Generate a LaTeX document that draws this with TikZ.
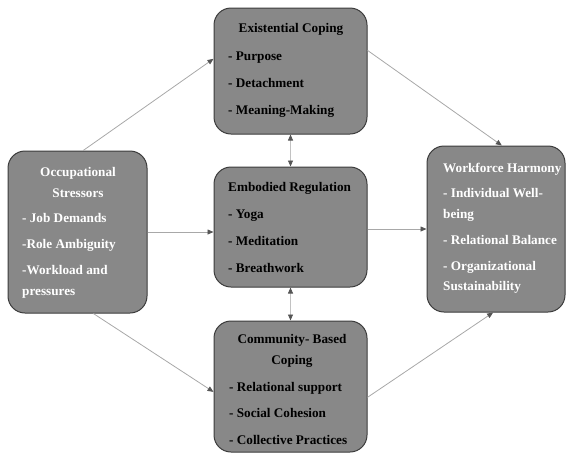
\documentclass[tikz,border=0pt]{standalone}
\usepackage{fontspec}
\setmainfont{Liberation Serif}
\usetikzlibrary{arrows.meta}
\definecolor{boxfill}{HTML}{888888}
\definecolor{boxline}{HTML}{3C3C3C}
\definecolor{conn}{HTML}{A8A8A8}
\definecolor{tipc}{HTML}{555555}
\tikzset{
  box/.style={draw=boxline, line width=1pt, fill=boxfill, rounded corners=17pt, inner sep=0pt},
  lbl/.style={inner sep=0pt, font=\fontsize{13.2}{15}\selectfont\bfseries},
  wlbl/.style={lbl, text=white},
  blbl/.style={lbl, text=black},
  conn/.style={draw=conn, line width=0.8pt, -{Triangle[length=6pt,width=5pt,color=tipc]}},
  dconn/.style={draw=conn!70, line width=0.8pt, {Triangle[length=6pt,width=5pt,color=tipc]}-{Triangle[length=6pt,width=5pt,color=tipc]}}
}
\begin{document}
\begin{tikzpicture}[x=1pt,y=-1pt]
\useasboundingbox (0,0) rectangle (572,459);
% boxes
\node[box, minimum width=153pt, minimum height=126pt] (ex) at (290.5,71) {};
\node[box, minimum width=139pt, minimum height=162pt] (occ) at (77.5,232) {};
\node[box, minimum width=153pt, minimum height=120pt] (emb) at (290.5,227) {};
\node[box, minimum width=138pt, minimum height=166pt] (wf) at (496,229) {};
\node[box, minimum width=153pt, minimum height=131pt] (com) at (290.5,386.5) {};
% Existential
\node[blbl, anchor=mid] (ex0) at (291,30) {Existential Coping};
\node[blbl, anchor=mid west] (ex1) at (228,58) {- Purpose};
\node[blbl, anchor=mid west] (ex2) at (228,85) {- Detachment};
\node[blbl, anchor=mid west] (ex3) at (228,112) {- Meaning-Making};
% Occupational
\node[wlbl, anchor=mid] (oc0) at (78,174) {Occupational};
\node[wlbl, anchor=mid] (oc1) at (78,195) {Stressors};
\node[wlbl, anchor=mid west] (oc2) at (22,220) {- Job Demands};
\node[wlbl, anchor=mid west] (oc3) at (22,246) {-Role Ambiguity};
\node[wlbl, anchor=mid west] (oc4) at (22,272) {-Workload and};
\node[wlbl, anchor=mid west] (oc5) at (22,293) {pressures};
% Embodied
\node[blbl, anchor=mid west] (em0) at (228,189) {Embodied Regulation};
\node[blbl, anchor=mid west] (em1) at (228,216) {- Yoga};
\node[blbl, anchor=mid west] (em2) at (228,243) {- Meditation};
\node[blbl, anchor=mid west] (em3) at (228,270) {- Breathwork};
% Workforce
\node[wlbl, anchor=mid west] (wf0) at (443,170) {Workforce Harmony};
\node[wlbl, anchor=mid west] (wf1) at (443,195) {- Individual Well-};
\node[wlbl, anchor=mid west] (wf2) at (443,216) {being};
\node[wlbl, anchor=mid west] (wf3) at (443,242) {- Relational Balance};
\node[wlbl, anchor=mid west] (wf4) at (443,268) {- Organizational};
\node[wlbl, anchor=mid west] (wf5) at (443,288) {Sustainability};
% Community
\node[blbl, anchor=mid] (co0) at (292,341) {Community- Based};
\node[blbl, anchor=mid] (co1) at (292,362) {Coping};
\node[blbl, anchor=mid west] (co2) at (229,389) {- Relational support};
\node[blbl, anchor=mid west] (co3) at (229,415) {- Social Cohesion};
\node[blbl, anchor=mid west] (co4) at (229,442) {- Collective Practices};
% connectors
\draw[conn] (occ.86) -- (ex.171);
\draw[conn] (occ.east) -- (emb.west |- occ.east);
\draw[conn] (occ.281) -- (com.184);
\draw[conn] (ex.15) -- (wf.86);
\draw[conn] (emb.east |- wf.west) -- (wf.west);
\draw[conn] (com.352) -- (wf.268.6);
\draw[dconn] (ex.south) -- (emb.north);
\draw[dconn] (emb.south) -- (com.north);
\end{tikzpicture}
\end{document}
